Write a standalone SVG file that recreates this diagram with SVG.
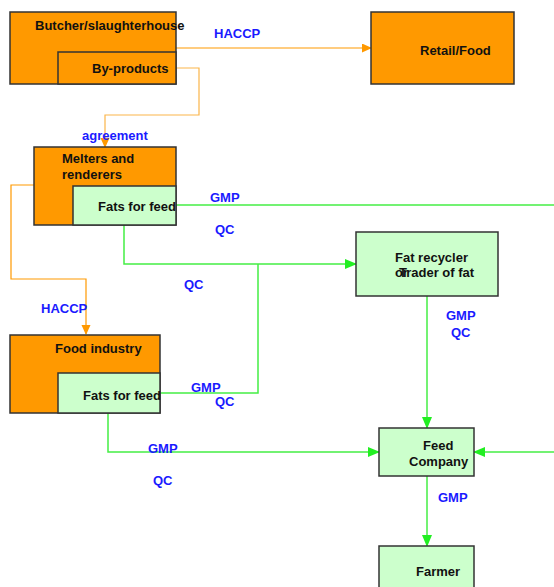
<svg xmlns="http://www.w3.org/2000/svg" width="554" height="587" viewBox="0 0 554 587">
<defs>
<marker id="ao" markerWidth="10" markerHeight="10" refX="9" refY="4.5" orient="auto" markerUnits="userSpaceOnUse"><path d="M0,0 L10,4.5 L0,9 z" fill="#ff9900"/></marker>
<marker id="ag" markerWidth="12" markerHeight="10" refX="11" refY="5" orient="auto" markerUnits="userSpaceOnUse"><path d="M0,0 L12,5 L0,10 z" fill="#22ee22"/></marker>
</defs>
<style>
.o{fill:#ff9900;stroke:#333;stroke-width:1.5}
.g{fill:#ccffcc;stroke:#333;stroke-width:1.5}
.t{font-family:"Liberation Sans",Arial,sans-serif;font-weight:bold;font-size:13px;fill:#111}
.b{font-family:"Liberation Sans",Arial,sans-serif;font-weight:bold;font-size:13px;fill:#1a1aff}
.lo{fill:none;stroke:#ff9900;stroke-width:1.2}
.lo2{fill:none;stroke:#fbb54a;stroke-width:1.2}
.lg{fill:none;stroke:#44ee44;stroke-width:1.5}
</style>
<g id="connectors">
<path class="lo" d="M176,48 H371" marker-end="url(#ao)"/>
<path class="lo2" d="M176,68 H199 V115 H105 V147" marker-end="url(#ao)"/>
<path class="lo" d="M34,185 H11 V279 H86 V334" marker-end="url(#ao)"/>
<path class="lg" d="M176,205 H554"/>
<path class="lg" d="M124,225 V264 H356" marker-end="url(#ag)"/>
<path class="lg" d="M160,393 H258 V264"/>
<path class="lg" d="M427,296 V428" marker-end="url(#ag)"/>
<path class="lg" d="M108,413 V452 H379" marker-end="url(#ag)"/>
<path class="lg" d="M554,452 H474" marker-end="url(#ag)"/>
<path class="lg" d="M427,476 V546" marker-end="url(#ag)"/>
</g>
<g id="labels">
<text class="b" x="214" y="38">HACCP</text>
<text class="b" x="82" y="140">agreement</text>
<text class="b" x="210" y="202">GMP</text>
<text class="b" x="215" y="234">QC</text>
<text class="b" x="184" y="289">QC</text>
<text class="b" x="41" y="313">HACCP</text>
<text class="b" x="446" y="320">GMP</text>
<text class="b" x="451" y="337">QC</text>
<text class="b" x="191" y="392">GMP</text>
<text class="b" x="215" y="406">QC</text>
<text class="b" x="148" y="453">GMP</text>
<text class="b" x="153" y="485">QC</text>
<text class="b" x="438" y="502">GMP</text>
</g>
<g id="butcher">
<rect class="o" x="10" y="12" width="166" height="72"/>
<rect class="o" x="58" y="52" width="118" height="32"/>
<text class="t" x="35" y="30">Butcher/slaughterhouse</text>
<text class="t" x="92" y="73">By-products</text>
</g>
<g id="retail">
<rect class="o" x="371" y="12" width="143" height="72"/>
<text class="t" x="420" y="55">Retail/Food</text>
</g>
<g id="melters">
<rect class="o" x="34" y="147" width="142" height="78"/>
<rect class="g" x="73" y="186" width="103" height="39"/>
<text class="t" x="62" y="163">Melters and</text>
<text class="t" x="62" y="179">renderers</text>
<text class="t" x="98" y="211">Fats for feed</text>
</g>
<g id="recycler">
<rect class="g" x="356" y="232" width="142" height="64"/>
<text class="t" x="395" y="262">Fat recycler</text>
<text class="t" x="395" y="277">or<tspan dx="-9">Trader of fat</tspan></text>
</g>
<g id="food">
<rect class="o" x="10" y="335" width="150" height="78"/>
<rect class="g" x="58" y="373" width="102" height="40"/>
<text class="t" x="55" y="353">Food industry</text>
<text class="t" x="83" y="400">Fats for feed</text>
</g>
<g id="feed">
<rect class="g" x="379" y="428" width="95" height="48"/>
<text class="t" x="423" y="450">Feed</text>
<text class="t" x="409" y="466">Company</text>
</g>
<g id="farmer">
<rect class="g" x="379" y="546" width="95" height="45"/>
<text class="t" x="416" y="576">Farmer</text>
</g>
</svg>
